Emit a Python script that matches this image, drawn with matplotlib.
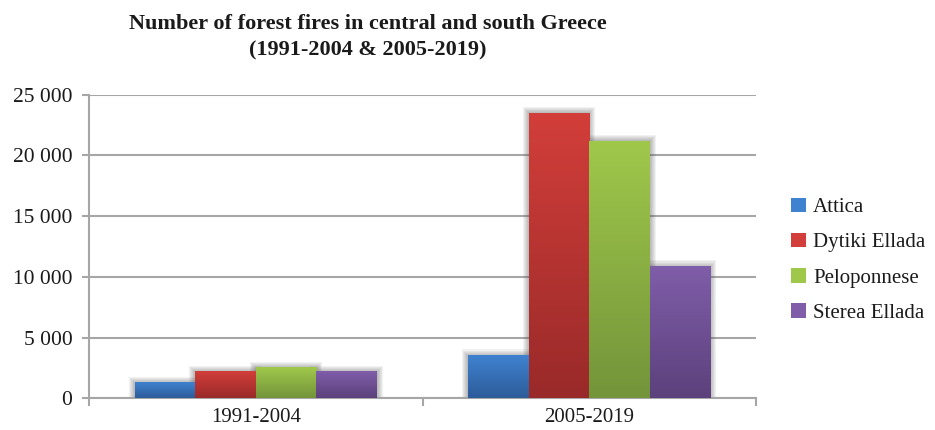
import matplotlib.pyplot as plt
import numpy as np
from matplotlib.colors import LinearSegmentedColormap
from matplotlib.patches import Rectangle, Patch
from matplotlib.ticker import FuncFormatter

periods = ['1991-2004', '2005-2019']
regions = ['Attica', 'Dytiki Ellada', 'Peloponnese', 'Sterea Ellada']
attica = [1260, 3490]
dytiki = [2170, 23440]
peloponnese = [2500, 21130]
sterea = [2170, 10820]
values = [attica, dytiki, peloponnese, sterea]

# (top colour, bottom colour) for the vertical gradient
colors = [('#3f82d0', '#2d5c9a'), ('#d23e3a', '#992a29'),
          ('#9fc84b', '#74943a'), ('#7f5da9', '#5c417c')]

plt.rcParams['font.family'] = ['Liberation Serif', 'DejaVu Serif']

fig = plt.figure(figsize=(9.35, 4.3), dpi=100)
ax = fig.add_axes([0.0952, 0.0733, 0.7134, 0.7069])

width = 0.1814
x = np.arange(len(periods))
grad = np.linspace(0, 1, 100).reshape(-1, 1)

for i, (vals, (top, bot)) in enumerate(zip(values, colors)):
    cmap = LinearSegmentedColormap.from_list('g%d' % i, [bot, top])
    for xc, v in zip(x, vals):
        x0 = xc + (i - 1.5) * width - width / 2
        x1 = x0 + width
        # soft shadow, mostly above the bar top
        for k in range(1, 7):
            dx = 0.003 * k
            dy = 90 * k
            ax.add_patch(Rectangle((x0 - dx, 0), width + 2 * dx, v + dy,
                                   color='#505050', alpha=0.075, lw=0, zorder=2))
        ax.imshow(grad, extent=(x0, x1, 0, v), origin='lower', cmap=cmap,
                  aspect='auto', zorder=3, interpolation='bilinear')

ax.set_xlim(-0.5, 1.5)
ax.set_ylim(0, 25000)
ax.set_yticks(range(0, 25001, 5000))
ax.yaxis.set_major_formatter(FuncFormatter(lambda v, p: f'{int(v):,}'.replace(',', ' ')))
ax.yaxis.grid(True, color='#a6a6a6', lw=1.5)
ax.set_axisbelow(True)

ax.set_xticks(x)
ax.set_xticklabels(periods)
ax.set_xticks([-0.5, 0.5, 1.5], minor=True)
ax.tick_params(axis='x', which='major', length=0, pad=7, labelsize=15, labelcolor='#1a1a1a')
ax.tick_params(axis='x', which='minor', length=6, color='#a6a6a6', width=1.5)
ax.tick_params(axis='y', length=5, color='#a6a6a6', width=1.5, labelsize=15.5,
               pad=7, labelcolor='#1a1a1a')

for s in ['top', 'right']:
    ax.spines[s].set_visible(False)
for s in ['left', 'bottom']:
    ax.spines[s].set_color('#a6a6a6')
    ax.spines[s].set_linewidth(1.5)

fig.suptitle('Number of forest fires in central and south Greece\n(1991-2004 & 2005-2019)',
             fontsize=16, fontweight='bold', x=0.393, y=0.968, va='top',
             linespacing=1.45, color='#1a1a1a')

handles = [Patch(facecolor=c[0], edgecolor='none') for c in colors]
fig.legend(handles, regions, loc='center left', bbox_to_anchor=(0.826, 0.395),
           frameon=False, fontsize=15, handlelength=0.7, handleheight=0.7,
           handletextpad=0.35, labelspacing=0.75, labelcolor='#1a1a1a')

fig.savefig('out.png', dpi=100)
